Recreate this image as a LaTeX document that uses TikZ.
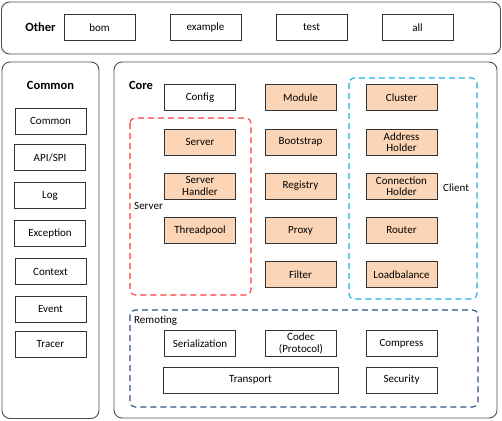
\documentclass[tikz,border=0pt]{standalone}
\usepackage{fontspec}
\setmainfont{Carlito}
\usetikzlibrary{shapes}

\definecolor{peach}{HTML}{FBD5B5}
\definecolor{srvred}{HTML}{FF3B3B}
\definecolor{cliblue}{HTML}{1AAFE6}
\definecolor{remnavy}{HTML}{2F4F86}

\begin{document}
\begin{tikzpicture}[x=1pt,y=-1pt]
				\tikzstyle{mod}=[rectangle,draw=black!80,line width=0.9pt,minimum width=71pt,minimum height=26pt,inner sep=0pt,align=center,font=\fontsize{11}{11.5}\selectfont]
				\tikzstyle{coremod}=[mod,fill=peach]
				\tikzstyle{panel}=[draw=black!70,line width=0.9pt,rounded corners=8pt]
				\tikzstyle{group}=[line width=1.1pt,rounded corners=5pt,dash pattern=on 6pt off 4pt]
				\tikzstyle{title}=[font=\bfseries\fontsize{12.5}{13}\selectfont,inner sep=0pt]
				\tikzstyle{lbl}=[font=\fontsize{11}{12}\selectfont,inner sep=0pt,anchor=west]
				\useasboundingbox (0,0) rectangle (502,420);
				% Other
				\draw[panel] (1.5,2) rectangle (500.5,54);
				\node[title] (other) at (40.5,27) {Other};
				\foreach \name/\x in {bom/99.5,example/205.5,test/311.5,all/417.5}
					\node[mod] (\name) at (\x,27.5) {\name};
				% Common
				\draw[panel] (2,62) rectangle (99,418.5);
				\node[title] (common) at (50.5,85) {Common};
				\node[mod] (cmn) at (50.5,121) {Common};
				\node[mod] (api) at (50,157.5) {API/SPI};
				\node[mod] (log) at (50,195.5) {Log};
				\node[mod] (exception) at (50,233.5) {Exception};
				\node[mod] (context) at (50.5,271.5) {Context};
				\node[mod] (event) at (50.5,309) {Event};
				\node[mod] (tracer) at (50.5,344.5) {Tracer};
				% Core
				\draw[panel] (114,62) rectangle (497,418);
				\node[title] (core) at (141,85) {Core};
				\node[mod] (config) at (200,97.5) {Config};
				\draw[group,draw=srvred] (130,118) rectangle (251,295);
				\node[lbl] (serverlbl) at (134,206) {Server};
				\node[coremod] (server) at (200,142) {Server};
				\node[coremod] (handler) at (200,186) {Server\\Handler};
				\node[coremod] (threadpool) at (200,230.5) {Threadpool};
				\node[coremod] (module) at (300.5,97.5) {Module};
				\node[coremod] (bootstrap) at (300.5,142) {Bootstrap};
				\node[coremod] (registry) at (300.5,186) {Registry};
				\node[coremod] (proxy) at (300.5,230.5) {Proxy};
				\node[coremod] (filter) at (300.5,274.5) {Filter};
				\draw[group,draw=cliblue] (349,78) rectangle (477,299);
				\node[lbl] (clientlbl) at (443,188) {Client};
				\node[coremod] (cluster) at (401.5,97.5) {Cluster};
				\node[coremod] (address) at (401.5,142) {Address\\Holder};
				\node[coremod] (connection) at (401.5,186) {Connection\\Holder};
				\node[coremod] (router) at (401.5,230.5) {Router};
				\node[coremod] (loadbalance) at (401.5,274.5) {Loadbalance};
				% Remoting
				\draw[group,draw=remnavy] (130,310) rectangle (478,407);
				\node[lbl] (remotinglbl) at (134,321) {Remoting};
				\node[mod] (serialization) at (200,343.5) {Serialization};
				\node[mod] (codec) at (301,343.5) {Codec\\(Protocol)};
				\node[mod] (compress) at (401.5,343.5) {Compress};
				\node[mod,minimum width=175pt] (transport) at (250.5,380) {Transport};
				\node[mod] (security) at (401.5,380) {Security};
\end{tikzpicture}
\end{document}
